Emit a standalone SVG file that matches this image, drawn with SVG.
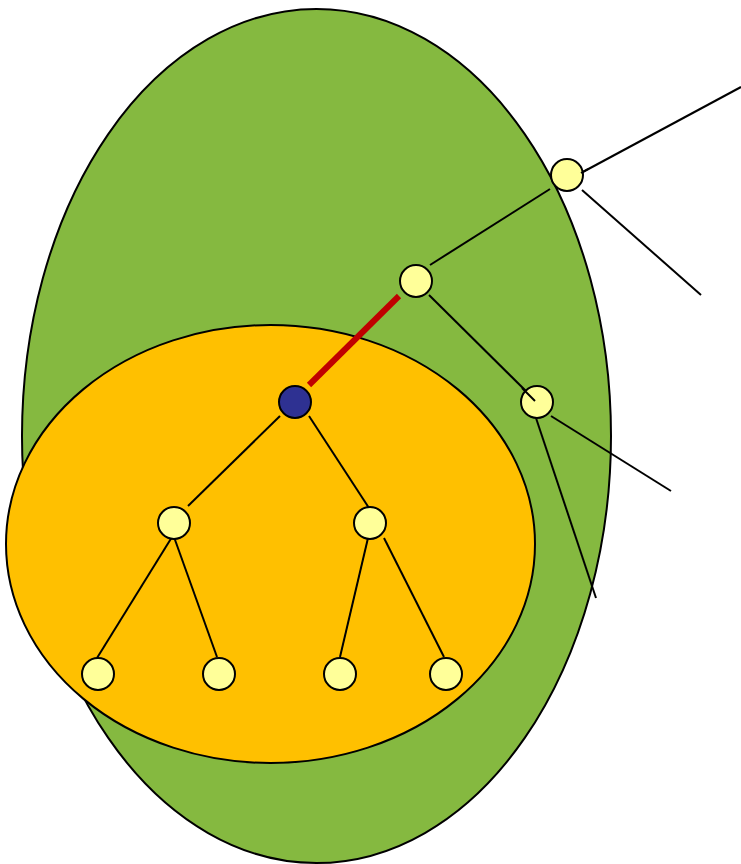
<svg xmlns="http://www.w3.org/2000/svg" width="741" height="864" viewBox="0 0 741 864">
<style>
.e{stroke:#000;stroke-width:2}
.n{fill:#ffff99;stroke:#000;stroke-width:2}
.c line{stroke:#000;stroke-width:2}
</style>
<rect width="741" height="864" fill="#fff"/>
<g id="outer"><ellipse class="e" cx="316.5" cy="436" rx="294.5" ry="427" fill="#85b940"/></g>
<g id="inner"><ellipse class="e" cx="270.5" cy="544" rx="264.5" ry="219" fill="#ffc000"/></g>
<g id="connectors" class="c">
<line x1="741" y1="87" x2="581" y2="173"/>
<line x1="582" y1="190" x2="701" y2="295"/>
<line x1="550" y1="189" x2="430" y2="265"/>
<line x1="429" y1="295" x2="535" y2="400"/>
<line x1="551" y1="416" x2="671" y2="491"/>
<line x1="536" y1="418" x2="596" y2="598"/>
<line x1="280" y1="416" x2="188" y2="506"/>
<line x1="309" y1="416" x2="369" y2="508"/>
<line x1="172" y1="537" x2="97" y2="658"/>
<line x1="174" y1="537" x2="217" y2="657"/>
<line x1="368" y1="538" x2="340" y2="657"/>
<line x1="384" y1="538" x2="444" y2="657"/>
<line x1="399" y1="296" x2="309" y2="385" style="stroke:#c00000;stroke-width:6"/>
</g>
<g id="n1"><circle class="n" cx="567" cy="175" r="16"/></g>
<g id="n2"><circle class="n" cx="416" cy="281" r="16"/></g>
<g id="root"><circle cx="295" cy="402" r="16" fill="#2e3192" stroke="#000" stroke-width="2"/></g>
<g id="n3"><circle class="n" cx="537" cy="402" r="16"/></g>
<g id="l1"><circle class="n" cx="174" cy="523" r="16"/></g>
<g id="r1"><circle class="n" cx="370" cy="523" r="16"/></g>
<g id="ll"><circle class="n" cx="98" cy="674" r="16"/></g>
<g id="lr"><circle class="n" cx="219" cy="674" r="16"/></g>
<g id="rl"><circle class="n" cx="340" cy="674" r="16"/></g>
<g id="rr"><circle class="n" cx="446" cy="674" r="16"/></g>
<g id="overlay" class="c">
<line x1="581" y1="173" x2="588" y2="169"/>
<line x1="522" y1="388" x2="535" y2="401"/>
</g>
</svg>
